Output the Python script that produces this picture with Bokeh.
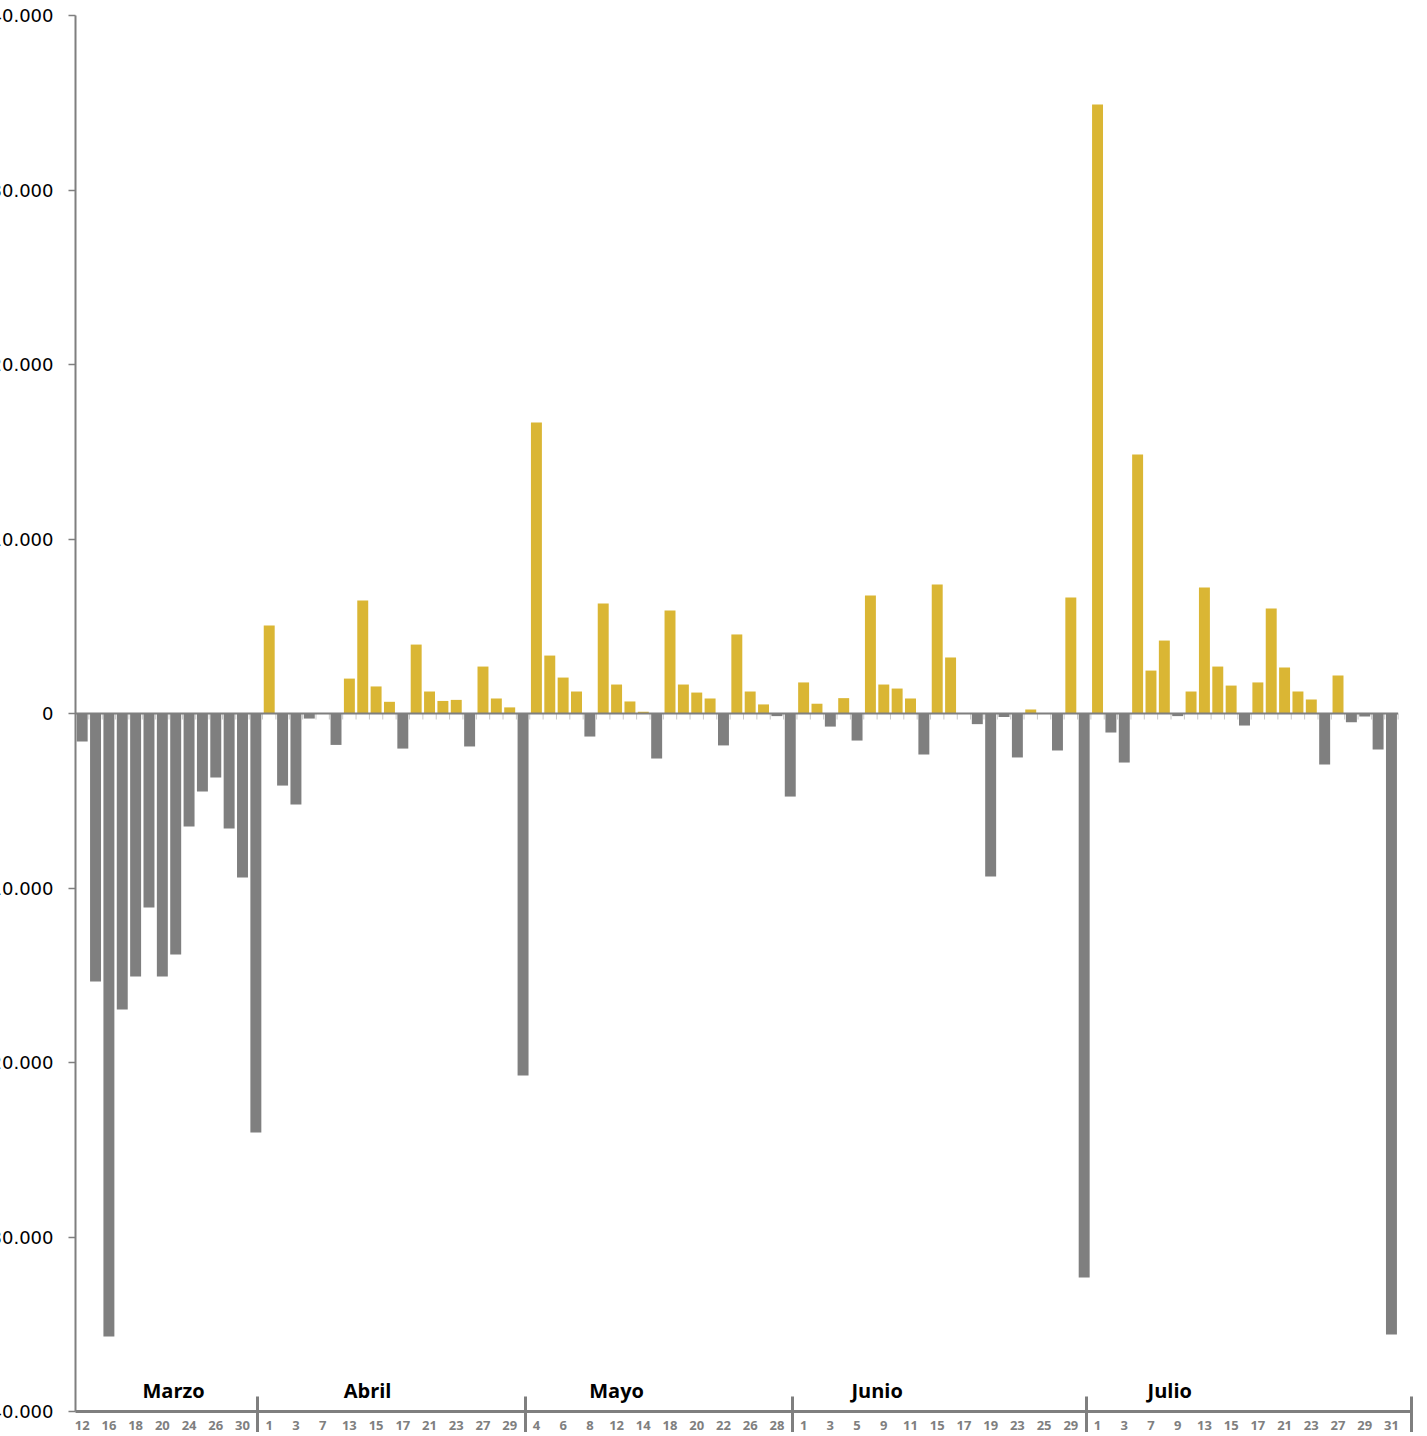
from bokeh.plotting import figure
from bokeh.models import Range1d, FixedTicker, ColumnDataSource
from bokeh.core.properties import value
from bokeh.embed import file_html
from bokeh.resources import INLINE

# ---------------- data ----------------
months = ["Marzo", "Abril", "Mayo", "Junio", "Julio"]

days_marzo = [12, 13, 16, 17, 18, 19, 20, 23, 24, 25, 26, 27, 30, 31]
days_abril = [1, 2, 3, 6, 7, 8, 13, 14, 15, 16, 17, 20, 21, 22, 23, 24, 27, 28, 29, 30]
days_mayo = [4, 5, 6, 7, 8, 11, 12, 13, 14, 15, 18, 19, 20, 21, 22, 25, 26, 27, 28, 29]
days_junio = [1, 2, 3, 4, 5, 8, 9, 10, 11, 12, 15, 16, 17, 18, 19, 22, 23, 24, 25, 26, 29, 30]
days_julio = [1, 2, 3, 6, 7, 8, 9, 10, 13, 14, 15, 16, 17, 20, 21, 22, 23, 24, 27, 28, 29, 30, 31]

values_marzo = [-1600, -15360, -35700, -16960, -15070, -11120, -15070, -13810, -6480,
                -4470, -3670, -6590, -9400, -24010]
values_abril = [5040, -4130, -5220, -290, 0, -1800, 2000, 6480, 1550, 670, -2010, 3950,
                1260, 720, 780, -1890, 2690, 860, 350, -20750]
values_mayo = [16680, 3320, 2060, 1260, -1320, 6300, 1660, 690, 100, -2580, 5900, 1660,
               1200, 860, -1830, 4530, 1260, 520, -150, -4760]
values_junio = [1780, 560, -750, 880, -1550, 6760, 1660, 1430, 860, -2350, 7390, 3210, 0,
                -610, -9340, -200, -2520, 230, 0, -2120, 6650, -32320]
values_julio = [34900, -1090, -2810, 14840, 2460, 4180, -150, 1260, 7220, 2690, 1600, -690,
                1780, 6020, 2640, 1260, 800, -2920, 2180, -500, -170, -2060, -35590]

y_ticks = [-40000, -30000, -20000, -10000, 0, 10000, 20000, 30000, 40000]
y_tick_labels = ["-40.000", "-30.000", "-20.000", "-10.000", "0",
                 "10.000", "20.000", "30.000", "40.000"]

# ---------------- styling / layout ----------------
YELLOW = "#DAB634"
GRAY = "#7F7F7F"
FRAME_W, FRAME_H = 1336, 1396
BORDER_L = 100          # wide enough for the tick labels
FRAME_LEFT_ON_PAGE = 75  # the labels overflow the page edge, as in the reference
month_label_offsets = [6.84, 7.36, 6.0, 5.5, 5.4]   # label anchor relative to month start
SEP_SHIFT = -0.35

month_days = [days_marzo, days_abril, days_mayo, days_junio, days_julio]
month_vals = [values_marzo, values_abril, values_mayo, values_junio, values_julio]
days = [d for m in month_days for d in m]
values = [v for m in month_vals for v in m]
n = len(days)
xs = list(range(n))
colors = [YELLOW if v > 0 else GRAY for v in values]

x_start, x_end = -0.5, n + 0.5
y_start, y_end = y_ticks[0], y_ticks[-1]
upp = (y_end - y_start) / FRAME_H          # data units per pixel

p = figure(frame_width=FRAME_W, frame_height=FRAME_H,
           x_range=Range1d(x_start, x_end), y_range=Range1d(y_start, y_end),
           output_backend="svg", toolbar_location=None,
           min_border_left=BORDER_L, min_border_top=15, min_border_right=8, min_border_bottom=0,
           styles={"margin-left": f"{FRAME_LEFT_ON_PAGE - BORDER_L}px"})
p.grid.visible = False
p.outline_line_color = None
p.background_fill_color = "white"

src = ColumnDataSource(dict(x=xs, top=values, color=colors))
p.vbar(x="x", top="top", bottom=0, width=0.82, fill_color="color", line_color=None, source=src)

# zero axis line with small ticks at category boundaries
bx = [k - 0.5 for k in range(1, n + 1)]
p.segment(x0=bx, x1=bx, y0=[0] * len(bx), y1=[-6 * upp] * len(bx), line_color="#C8C8C8", line_width=1)
p.segment(x0=[x_start], x1=[n - 0.5], y0=[0], y1=[0], line_color=GRAY, line_width=2)

# y axis
p.yaxis.ticker = FixedTicker(ticks=y_ticks)
p.yaxis.major_label_overrides = dict(zip(y_ticks, y_tick_labels))
p.yaxis.major_label_text_font = "DejaVu Sans"
p.yaxis.major_label_text_font_size = "18px"
p.yaxis.major_label_text_color = "#000000"
p.yaxis.major_label_standoff = 15
p.yaxis.axis_line_color = GRAY
p.yaxis.axis_line_width = 2
p.yaxis.major_tick_line_color = GRAY
p.yaxis.major_tick_line_width = 1.5
p.yaxis.major_tick_out = 7
p.yaxis.major_tick_in = 0
p.yaxis.minor_tick_line_color = None

# x axis: day labels every second category, month separators as minor ticks
counts = [len(m) for m in month_days]
starts = [sum(counts[:i]) for i in range(len(counts))]
seps = [starts[i] + counts[i] - 0.5 + SEP_SHIFT for i in range(len(counts) - 1)] + [x_end]
label_idx = list(range(0, n, 2))
p.xaxis.ticker = FixedTicker(ticks=label_idx, minor_ticks=seps)
p.xaxis.major_label_overrides = {i: str(days[i]) for i in label_idx}
p.xaxis.major_tick_line_color = None
p.xaxis.major_tick_in = 0
p.xaxis.major_tick_out = 0
p.xaxis.minor_tick_line_color = GRAY
p.xaxis.minor_tick_line_width = 3
p.xaxis.minor_tick_in = 15
p.xaxis.minor_tick_out = 26
p.xaxis.axis_line_color = GRAY
p.xaxis.axis_line_width = 3
p.xaxis.major_label_text_font = "Open Sans"
p.xaxis.major_label_text_font_style = "bold"
p.xaxis.major_label_text_font_size = "13px"
p.xaxis.major_label_text_color = GRAY
p.xaxis.major_label_standoff = -17

# month labels
mx = [starts[i] + month_label_offsets[i] for i in range(len(months))]
p.text(x=mx, y=[y_start + 21 * upp] * len(months), text=months,
       text_font=value("Open Sans"), text_font_style="bold", text_font_size="20px",
       text_align="center", text_baseline="middle", text_color="#000000")

open("out.html", "w").write(file_html(p, INLINE))
